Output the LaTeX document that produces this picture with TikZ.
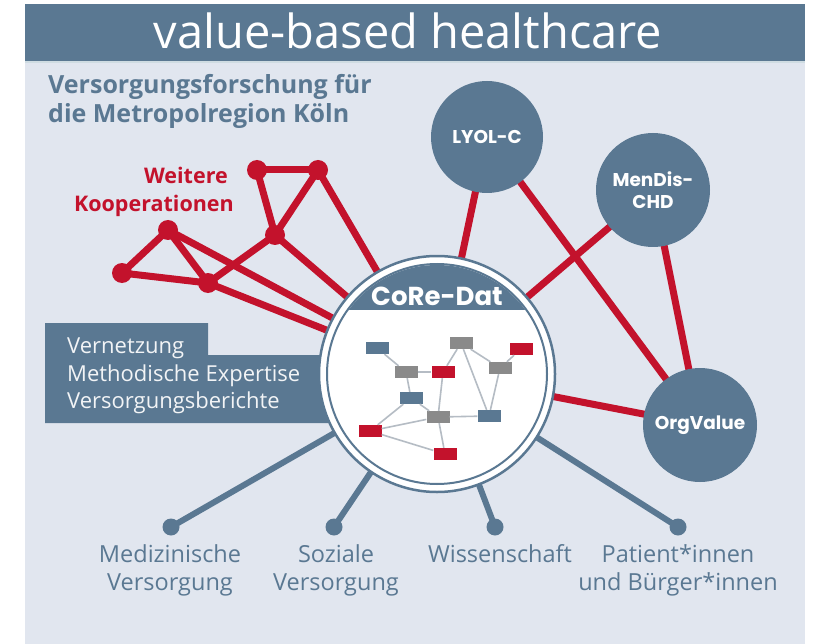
\documentclass[tikz,border=0pt]{standalone}
\usepackage{fontspec}
\setmainfont{Open Sans}
\newfontfamily\geo{Poppins}
\definecolor{panelbg}{HTML}{E1E6EF}
\definecolor{vbblue}{HTML}{5A7892}
\definecolor{vbred}{HTML}{C3122C}
\definecolor{netgray}{HTML}{8A8A8A}
\definecolor{netline}{HTML}{B5BCC4}
\definecolor{stripc}{HTML}{CFDCE2}
\pgfdeclarelayer{bg}
\pgfdeclarelayer{lines}
\pgfsetlayers{bg,lines,main}
\tikzset{
  redline/.style={draw=vbred, line width=7pt},
  blueline/.style={draw=vbblue, line width=6pt},
  reddot/.style={circle, fill=vbred, minimum size=20pt, inner sep=0pt},
  bluedot/.style={circle, fill=vbblue, minimum size=17pt, inner sep=0pt},
  bigcirc/.style={circle, fill=vbblue, inner sep=0pt, text=white, font=\geo\bfseries\fontsize{18.5}{22}\selectfont, align=center},
  netbox/.style={minimum width=23pt, minimum height=12pt, inner sep=0pt},
  nblue/.style={netbox, fill=vbblue},
  ngray/.style={netbox, fill=netgray},
  nred/.style={netbox, fill=vbred},
  netedge/.style={draw=netline, line width=1.6pt},
  bottomlabel/.style={text=vbblue, font=\fontsize{23.5}{23.5}\selectfont, anchor=base, inner sep=0pt},
  boxtext/.style={text=white!92!vbblue, font=\fontsize{22}{22}\selectfont, anchor=base west, inner sep=0pt},
  subtitle/.style={text=vbblue, font=\bfseries\fontsize{25}{25}\selectfont, anchor=base west, inner sep=0pt},
  redtitle/.style={text=vbred, font=\bfseries\fontsize{21.5}{21.5}\selectfont, anchor=base east, inner sep=0pt}
}
\begin{document}
\begin{tikzpicture}[x=1pt,y=-1pt]
\useasboundingbox (0,0) rectangle (813,644);
\begin{pgfonlayer}{bg}
  \fill[white] (0,0) rectangle (813,644);
  \fill[panelbg] (25,4) rectangle (805,644);
  \fill[vbblue] (25,4) rectangle (805,61);
  \fill[stripc] (25,61) rectangle (805,63);
\end{pgfonlayer}

% title
\node[text=white, font=\fontsize{47}{47}\selectfont, anchor=base, inner sep=0pt] (title) at (408,49) {value-based healthcare};
\node[subtitle] (sub1) at (48,94) {Versorgungsforschung für};
\node[subtitle] (sub2) at (48,123) {die Metropolregion Köln};
\node[redtitle] (wt1) at (228,184) {Weitere};
\node[redtitle] (wt2) at (234,212) {Kooperationen};

% central circle
\node[circle, minimum size=236pt, draw=vbblue, line width=2.5pt, fill=white, inner sep=0pt] (core) at (437,374) {};
\draw[vbblue, line width=2pt] (core.center) circle (110pt);
\begin{scope}
  \clip (core.center) circle (109pt);
  \fill[vbblue] (300,250) rectangle (580,310);
\end{scope}
\node[text=white, font=\geo\bfseries\fontsize{26}{26}\selectfont, anchor=base, inner sep=0pt] (coretitle) at (437,305) {CoRe-Dat};

% inner network
\node[nblue] (n1) at (377,348) {};
\node[ngray] (n2) at (406,372) {};
\node[nred]  (n3) at (443,372) {};
\node[ngray] (n4) at (461,343) {};
\node[nred]  (n5) at (521,349) {};
\node[ngray] (n6) at (500,368) {};
\node[nblue] (n7) at (411,398) {};
\node[ngray] (n8) at (438,417) {};
\node[nblue] (n9) at (489,416) {};
\node[nred]  (n10) at (370,431) {};
\node[nred]  (n11) at (445,454) {};

% right circles
\node[bigcirc, minimum size=112pt] (lyol) at (487,137) {LYOL-C};
\node[bigcirc, minimum size=114pt] (mendis) at (653,190) {MenDis-\\CHD};
\node[bigcirc, minimum size=114pt] (org) at (700,425) {OrgValue};

% red network
\node[reddot] (ra) at (122,273) {};
\node[reddot] (rb) at (168,230) {};
\node[reddot] (rc) at (208,283) {};
\node[reddot] (rd) at (275,235) {};
\node[reddot] (re) at (257,170) {};
\node[reddot] (rf) at (318,170) {};

% bottom dots and labels
\node[bluedot] (d1) at (171,527) {};
\node[bluedot] (d2) at (334,527) {};
\node[bluedot] (d3) at (495,527) {};
\node[bluedot] (d4) at (678,527) {};
\node[bottomlabel] (l1a) at (170,562) {Medizinische};
\node[bottomlabel] (l1b) at (170,590) {Versorgung};
\node[bottomlabel] (l2a) at (336,562) {Soziale};
\node[bottomlabel] (l2b) at (336,590) {Versorgung};
\node[bottomlabel] (l3a) at (500,562) {Wissenschaft};
\node[bottomlabel] (l4a) at (678,562) {Patient*innen};
\node[bottomlabel] (l4b) at (678,590) {und Bürger*innen};

\begin{pgfonlayer}{lines}
  % box behind circle
  \fill[vbblue] (45,323) -- (208,323) -- (208,355) -- (345,355) -- (345,423) -- (45,423) -- cycle;
  % red connectors
  \draw[redline] (re.center) -- (rf.center);
  \draw[redline] (re.center) -- (rd.center);
  \draw[redline] (rf.center) -- (rd.center);
  \draw[redline] (ra.center) -- (rb.center);
  \draw[redline] (ra.center) -- (rc.center);
  \draw[redline] (rb.center) -- (rc.center);
  \draw[redline] (rc.center) -- (rd.center);
  \draw[redline] (rb.center) -- (core.center);
  \draw[redline] (rc.center) -- (core.center);
  \draw[redline] (rd.center) -- (core.center);
  \draw[redline] (rf.center) -- (core.center);
  \draw[redline] (lyol.center) -- (core.center);
  \draw[redline] (lyol.center) -- (org.center);
  \draw[redline] (mendis.center) -- (core.center);
  \draw[redline] (mendis.center) -- (org.center);
  \draw[redline] (org.center) -- (core.center);
  % blue connectors
  \draw[blueline] (core.center) -- (d1.center);
  \draw[blueline] (core.center) -- (d2.center);
  \draw[blueline] (core.center) -- (d3.center);
  \draw[blueline] (core.center) -- (d4.center);
\end{pgfonlayer}

% box text
\node[boxtext] (bt1) at (67,353) {Vernetzung};
\node[boxtext] (bt2) at (67,381) {Methodische Expertise};
\node[boxtext] (bt3) at (67,408) {Versorgungsberichte};

% inner network edges
\draw[netedge] (n1) -- (n2);
\draw[netedge] (n2) -- (n3);
\draw[netedge] (n2) -- (n7);
\draw[netedge] (n3) -- (n4);
\draw[netedge] (n3) -- (n8);
\draw[netedge] (n4) -- (n9);
\draw[netedge] (n4) -- (n6);
\draw[netedge] (n6) -- (n5);
\draw[netedge] (n6) -- (n9);
\draw[netedge] (n7) -- (n10);
\draw[netedge] (n7) -- (n8);
\draw[netedge] (n10) -- (n8);
\draw[netedge] (n10) -- (n11);
\draw[netedge] (n8) -- (n9);
\draw[netedge] (n8) -- (n11);
\end{tikzpicture}
\end{document}
